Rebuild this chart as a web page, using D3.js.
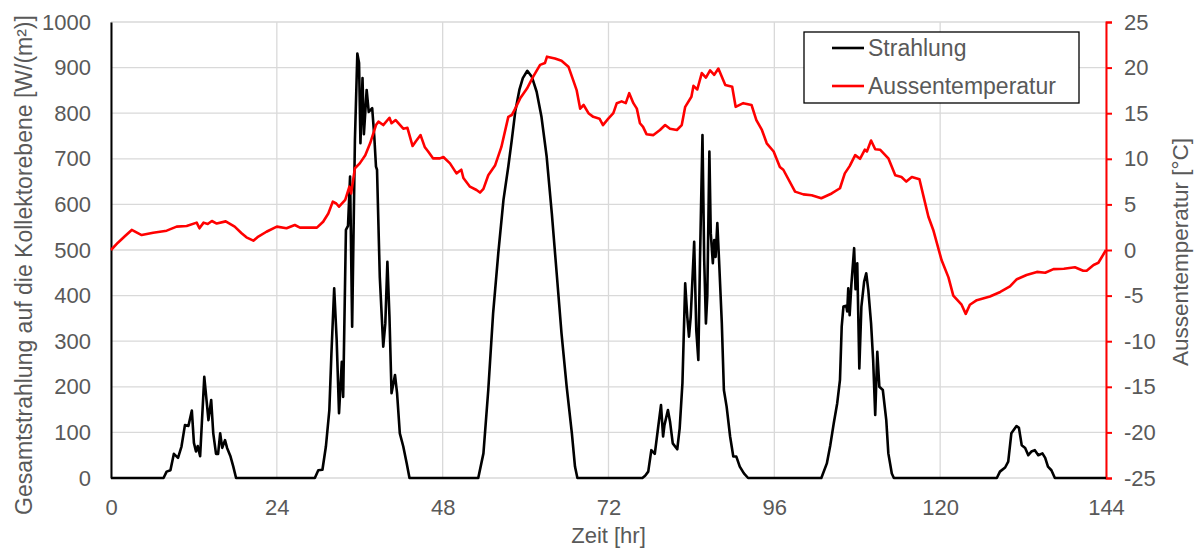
<!DOCTYPE html>
<html>
<head>
<meta charset="utf-8">
<script src="https://cdn.jsdelivr.net/npm/d3@7"></script>
<style>
  html, body { margin: 0; padding: 0; background: #ffffff; }
  svg { display: block; font-family: "Liberation Sans", Arial, sans-serif; }
</style>
</head>
<body>
<svg id="chart" width="1198" height="548"></svg>
<script>
// Global irradiance on the collector plane [W/m²] over time [h]
const radHours = [
  0, 7.6, 8.05, 8.6, 9.1, 9.7, 10.2, 10.7, 11.2, 11.7, 12.0, 12.3, 12.55, 12.9, 13.5, 13.85, 14.1, 14.5, 14.8, 15.2, 15.5, 15.8, 16.1, 16.5, 16.8, 17.3, 17.7, 18.1,
  29.5, 30.0, 30.6, 31.1, 31.6, 31.9, 32.3, 32.66, 33.0, 33.4, 33.6, 34.0, 34.3, 34.6, 34.9, 35.3, 35.65, 35.9, 36.1, 36.4, 36.6, 37.0, 37.3, 37.8, 38.1, 38.35, 38.5, 38.9, 39.4, 39.7, 40.0, 40.3, 40.6, 41.1, 41.4, 41.8, 42.3, 42.8, 43.2,
  53.15, 53.9, 54.6, 55.3, 56.05, 56.8, 57.5, 58.0, 58.5, 59.1, 59.6, 60.25, 60.9, 61.6, 62.3, 63.05, 63.8, 64.5, 65.2, 65.95, 66.7, 67.15, 67.5,
  76.9, 77.3, 77.75, 78.2, 78.7, 79.2, 79.6, 79.9, 80.1, 80.6, 80.9, 81.3, 81.95, 82.3, 82.7, 83.1, 83.4, 83.65, 83.9, 84.4, 84.7, 85.0, 85.24, 85.6, 85.85, 86.1, 86.3, 86.6, 86.8, 87.1, 87.3, 87.5, 87.75, 88.0, 88.4, 88.7, 89.1, 89.6, 90.06, 90.5, 91.0, 91.6, 92.2,
  102.8, 103.6, 104.1, 104.6, 105.1, 105.5, 105.75, 106.0, 106.4, 106.55, 106.7, 106.9, 107.15, 107.55, 107.75, 108.0, 108.3, 108.6, 109.0, 109.3, 109.6, 110.0, 110.3, 110.6, 110.9, 111.2, 111.7, 112.2, 112.5, 113.0, 113.3,
  128.2, 128.65, 129.4, 129.85, 130.3, 131.05, 131.4, 131.8, 132.3, 132.75, 133.2, 133.7, 134.2, 134.8, 135.2, 135.6, 136.1, 136.6, 144
];
const radValues = [
  0, 0, 14, 17, 53, 44, 69, 116, 114, 148, 77, 58, 70, 48, 222, 167, 127, 171, 98, 53, 53, 98, 66, 83, 66, 47, 25, 0,
  0, 17, 18, 69, 149, 273, 416, 303, 142, 255, 178, 544, 553, 661, 332, 741, 931, 910, 734, 877, 754, 851, 803, 811, 750, 683, 676, 441, 288, 339, 474, 354, 186, 226, 186, 98, 69, 32, 0,
  0, 54, 193, 361, 493, 610, 683, 741, 803, 851, 877, 893, 880, 847, 792, 705, 580, 449, 317, 200, 98, 25, 0,
  0, 5, 14, 61, 53, 113, 160, 91, 116, 149, 124, 76, 63, 109, 208, 427, 354, 310, 354, 518, 325, 259, 478, 752, 478, 339, 400, 716, 537, 471, 522, 485, 559, 478, 339, 193, 156, 91, 47, 47, 25, 10, 0,
  0, 32, 72, 120, 164, 215, 332, 376, 378, 365, 416, 357, 424, 504, 414, 471, 240, 376, 431, 449, 412, 339, 259, 138, 277, 200, 193, 127, 54, 10, 0,
  0, 14, 23, 36, 98, 114, 110, 72, 66, 50, 58, 61, 50, 54, 44, 25, 17, 0, 0
];

// Outdoor air temperature [°C] over time [h]
const tempHours = [
  0, 1.0, 2.0, 3.0, 4.44, 6.1, 8.06, 9.5, 10.95, 12.4, 12.8, 13.4, 14.0, 14.6, 15.3, 16.6, 17.9, 18.9, 19.6, 20.6, 21.2, 22.5, 24.0, 25.4, 26.6, 27.35,
  29.8, 30.7, 31.45, 32.1, 32.6, 33.0, 33.9, 34.5, 34.75, 35.3, 36.0, 36.8, 37.5, 38.35, 38.7, 39.4, 40.3, 40.6, 41.2, 42.3, 42.9, 43.65, 44.1, 44.8, 45.4, 45.9, 46.6,
  47.6, 48.1, 49.06, 50.0, 50.7, 51.0, 51.95, 52.9, 53.4, 53.9, 54.6, 55.6, 56.5, 57.5, 58.0, 58.5, 59.2, 60.2, 61.1, 62.1, 62.8, 63.1, 64.25, 65.2, 66.2, 66.9, 67.4, 67.9, 68.4, 69.1, 69.8, 70.7,
  71.2, 71.97, 72.7, 73.2, 73.9, 74.5, 75.0, 75.6, 76.1, 76.55, 77.0, 77.5, 78.5, 79.45, 80.2, 80.9, 81.9, 82.6, 83.1, 84.0, 84.3, 84.85, 85.5, 86.1, 86.7, 87.3, 87.9, 88.4, 88.9, 89.9, 90.4, 91.5, 92.7, 93.4, 94.2, 94.9, 95.9,
  96.8, 97.3, 99.0, 100.2, 101.4, 102.8, 104.3, 105.5, 106.2, 106.9, 107.7, 108.4, 109.1, 109.4, 110.0, 110.6, 111.3, 112.5, 113.5, 114.4, 115.1, 115.9, 117.0, 117.6, 118.3, 119.0,
  120.2, 121.2, 121.9, 123.1, 123.7, 124.3, 125.3, 127.2, 128.7, 130.1, 131.1, 132.5, 134.0, 135.2, 136.4, 137.9, 139.5, 140.7, 141.2, 142.2, 142.9, 144
];
const tempValues = [
  0, 0.8, 1.5, 2.2, 1.64, 1.9, 2.12, 2.56, 2.63, 3.0, 2.38, 3.0, 2.85, 3.18, 2.9, 3.14, 2.56, 1.83, 1.39, 1.02, 1.4, 2.0, 2.56, 2.38, 2.74, 2.45,
  2.45, 3.1, 4.0, 5.3, 5.1, 4.75, 5.5, 6.94, 6.2, 8.96, 9.5, 10.4, 11.7, 13.7, 14.07, 13.7, 14.5, 13.9, 14.25, 13.3, 13.4, 11.4, 11.9, 12.6, 11.3, 10.8, 10.05,
  10.05, 10.2, 9.5, 8.4, 8.8, 7.9, 6.94, 6.58, 6.3, 6.7, 8.2, 9.3, 11.3, 14.6, 14.8, 15.5, 16.6, 17.7, 19.0, 20.3, 20.5, 21.2, 21.0, 20.76, 20.1, 18.6, 17.5, 15.5, 15.9, 15.0, 14.6, 14.4,
  13.7, 14.4, 15.0, 16.1, 16.3, 16.1, 17.2, 16.1, 15.5, 13.9, 13.5, 12.7, 12.6, 13.16, 13.7, 13.3, 13.16, 13.7, 15.7, 16.8, 18.0, 17.6, 19.4, 18.9, 19.7, 19.2, 19.9, 19.0, 18.1, 17.9, 15.7, 16.1, 15.9, 14.25, 13.16, 11.7, 10.8,
  9.1, 8.8, 6.4, 6.1, 6.0, 5.67, 6.2, 6.77, 8.4, 9.2, 10.4, 10.0, 11.0, 10.8, 12.0, 11.05, 11.0, 10.05, 8.2, 8.0, 7.5, 8.0, 7.75, 5.85, 3.65, 2.2,
  -1.1, -3.0, -5.0, -6.0, -7.0, -6.0, -5.5, -5.1, -4.6, -4.0, -3.2, -2.74, -2.4, -2.5, -2.1, -2.05, -1.9, -2.27, -2.27, -1.64, -1.4, 0
];

const hourTicks = [0, 24, 48, 72, 96, 120, 144];
const radTicks = [0, 100, 200, 300, 400, 500, 600, 700, 800, 900, 1000];
const tempTicks = [-25, -20, -15, -10, -5, 0, 5, 10, 15, 20, 25];

const seriesNames = ["Strahlung", "Aussentemperatur"];
const seriesColors = ["#000000", "#ff0000"];

const W = 1198, H = 548;
const margin = { top: 22, right: 92, bottom: 70, left: 111 };
const innerW = W - margin.left - margin.right;
const innerH = H - margin.top - margin.bottom;

const svg = d3.select("#chart");
const g = svg.append("g").attr("transform", `translate(${margin.left},${margin.top})`);

const x = d3.scaleLinear().domain([0, 144]).range([0, innerW]);
const yRad = d3.scaleLinear().domain([0, 1000]).range([innerH, 0]);
const yTemp = d3.scaleLinear().domain([-25, 25]).range([innerH, 0]);

const textColor = "#595959";
const gridColor = "#d9d9d9";
const plain = d => String(d);

// Grid lines
g.append("g")
  .selectAll("line")
  .data(radTicks)
  .join("line")
  .attr("x1", 0).attr("x2", innerW)
  .attr("y1", d => yRad(d)).attr("y2", d => yRad(d))
  .attr("stroke", gridColor).attr("stroke-width", 1.3);

g.append("g")
  .selectAll("line")
  .data(hourTicks)
  .join("line")
  .attr("x1", d => x(d)).attr("x2", d => x(d))
  .attr("y1", 0).attr("y2", innerH)
  .attr("stroke", gridColor).attr("stroke-width", 1.3);

// Bottom axis labels
const xAxis = g.append("g")
  .attr("transform", `translate(0,${innerH})`)
  .call(d3.axisBottom(x).tickValues(hourTicks).tickSize(0).tickPadding(21).tickFormat(plain));
xAxis.select(".domain").remove();
xAxis.selectAll("text").attr("fill", textColor).style("font-size", "22px");

// Left axis
const yAxisL = g.append("g")
  .call(d3.axisLeft(yRad).tickValues(radTicks).tickSize(0).tickPadding(20).tickFormat(plain));
yAxisL.select(".domain").attr("stroke", "#000").attr("stroke-width", 2);
yAxisL.selectAll("text").attr("fill", textColor).style("font-size", "22px");

// Right axis
const yAxisR = g.append("g")
  .attr("transform", `translate(${innerW},0)`)
  .call(d3.axisRight(yTemp).tickValues(tempTicks).tickSize(6).tickSizeOuter(6).tickPadding(12).tickFormat(plain));
yAxisR.select(".domain").attr("stroke", "#ff0000").attr("stroke-width", 2);
yAxisR.selectAll(".tick line").attr("stroke", "#ff0000").attr("stroke-width", 2);
yAxisR.selectAll("text").attr("fill", textColor).style("font-size", "22px");

// Series lines
const radLine = d3.line()
  .x((d, i) => x(radHours[i]))
  .y(d => yRad(d));
const tempLine = d3.line()
  .x((d, i) => x(tempHours[i]))
  .y(d => yTemp(d));

g.append("path")
  .datum(radValues)
  .attr("d", radLine)
  .attr("fill", "none")
  .attr("stroke", seriesColors[0])
  .attr("stroke-width", 2.6)
  .attr("stroke-linejoin", "round");

g.append("path")
  .datum(tempValues)
  .attr("d", tempLine)
  .attr("fill", "none")
  .attr("stroke", seriesColors[1])
  .attr("stroke-width", 2.6)
  .attr("stroke-linejoin", "round");

// Axis titles
svg.append("text")
  .attr("transform", `translate(24,265) rotate(-90)`)
  .attr("text-anchor", "middle")
  .attr("dominant-baseline", "central")
  .attr("fill", textColor)
  .style("font-size", "23px")
  .text("Gesamtstrahlung auf die Kollektorebene [W/(m²)]");

svg.append("text")
  .attr("transform", `translate(1180,252) rotate(-90)`)
  .attr("text-anchor", "middle")
  .attr("dominant-baseline", "central")
  .attr("fill", textColor)
  .style("font-size", "22.5px")
  .text("Aussentemperatur [°C]");

svg.append("text")
  .attr("x", margin.left + innerW / 2)
  .attr("y", 535)
  .attr("text-anchor", "middle")
  .attr("dominant-baseline", "central")
  .attr("fill", textColor)
  .style("font-size", "22px")
  .text("Zeit [hr]");

// Legend
const legend = svg.append("g").attr("transform", "translate(804,32)");
legend.append("rect")
  .attr("x", 0).attr("y", 0)
  .attr("width", 275).attr("height", 71)
  .attr("fill", "#ffffff")
  .attr("stroke", "#000000")
  .attr("stroke-width", 1.3);
seriesNames.forEach((name, i) => {
  const ly = 16 + i * 38;
  legend.append("line")
    .attr("x1", 28).attr("x2", 60)
    .attr("y1", ly).attr("y2", ly)
    .attr("stroke", seriesColors[i])
    .attr("stroke-width", 2.6);
  legend.append("text")
    .attr("x", 64).attr("y", ly)
    .attr("dominant-baseline", "central")
    .attr("fill", textColor)
    .style("font-size", "23px")
    .text(name);
});
</script>
</body>
</html>
